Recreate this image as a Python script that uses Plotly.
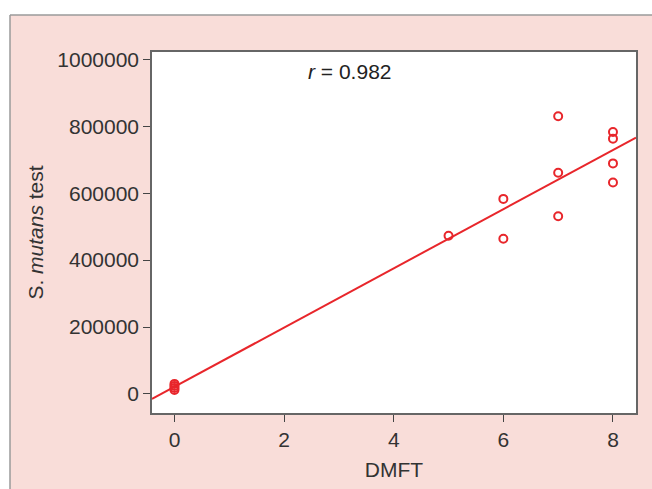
import numpy as np
import plotly.graph_objects as go

# Data
dmft = [0, 0, 0, 0, 5, 6, 6, 7, 7, 7, 8, 8, 8, 8]
s_mutans = [12000, 18000, 24000, 30000, 473000, 583000, 464000,
            830000, 661000, 531000, 783000, 763000, 689000, 632000]
x_ticks = [0, 2, 4, 6, 8]
y_ticks = [0, 200000, 400000, 600000, 800000, 1000000]
r_label = "<i>r</i> = 0.982"

RED = "#e8262b"
PINK = "#f9ddd9"
x_range = [-0.41, 8.42]
y_range = [-57000, 1022000]

slope, intercept = np.polyfit(dmft, s_mutans, 1)
fit_x = x_range
fit_y = [slope * v + intercept for v in fit_x]

fig = go.Figure()
fig.add_trace(go.Scatter(x=fit_x, y=fit_y, mode="lines",
                         line=dict(color=RED, width=2), showlegend=False,
                         hoverinfo="skip"))
fig.add_trace(go.Scatter(x=dmft, y=s_mutans, mode="markers",
                         marker=dict(symbol="circle-open", size=8, color=RED,
                                     line=dict(width=2, color=RED)),
                         showlegend=False))

L, R, T, B = 152, 16, 52, 76
W, H = 652, 489
pw, ph = W - L - R, H - T - B

def px(x):
    return (x - L) / pw

def py(y):
    return (H - B - y) / ph

shapes = [
    # white strips outside the pink panel
    dict(type="rect", xref="paper", yref="paper", x0=px(-5), x1=px(W + 5),
         y0=py(15), y1=py(-5), fillcolor="white", line=dict(width=0), layer="above"),
    dict(type="rect", xref="paper", yref="paper", x0=px(-5), x1=px(10),
         y0=py(H + 5), y1=py(-5), fillcolor="white", line=dict(width=0), layer="above"),
    # panel border
    dict(type="line", xref="paper", yref="paper", x0=px(10), x1=px(W + 5),
         y0=py(15), y1=py(15), line=dict(color="#9a9a9a", width=1.5)),
    dict(type="line", xref="paper", yref="paper", x0=px(10), x1=px(10),
         y0=py(15), y1=py(H + 5), line=dict(color="#9a9a9a", width=1.5)),
]

fig.update_layout(
    width=W, height=H,
    margin=dict(l=L, r=R, t=T, b=B, pad=0),
    paper_bgcolor=PINK,
    plot_bgcolor="white",
    font=dict(family="Liberation Sans, Arial, sans-serif", size=21, color="#333333"),
    shapes=shapes,
    annotations=[dict(x=3.2, y=965000, xref="x", yref="y", text=r_label,
                      showarrow=False, font=dict(size=21, color="#222222"))],
    xaxis=dict(range=x_range, tickvals=x_ticks, showgrid=False, zeroline=False,
               showline=True, mirror=True, linecolor="#666666", linewidth=1.5,
               ticks="outside", ticklen=7, tickwidth=1.2, tickcolor="#444444",
               tickfont=dict(size=21),
               title=dict(text="DMFT", font=dict(size=21), standoff=12)),
    yaxis=dict(range=y_range, tickvals=y_ticks, showgrid=False, zeroline=False,
               showline=True, mirror=True, linecolor="#666666", linewidth=1.5,
               ticks="outside", ticklen=7, tickwidth=1.2, tickcolor="#444444",
               tickfont=dict(size=21), tickformat="d",
               title=dict(text="S. <i>mutans</i> test", font=dict(size=21), standoff=8)),
)

fig.write_html("out.html", config={"displayModeBar": False},
               post_script="document.body.style.margin='0';document.body.style.overflow='hidden';")
